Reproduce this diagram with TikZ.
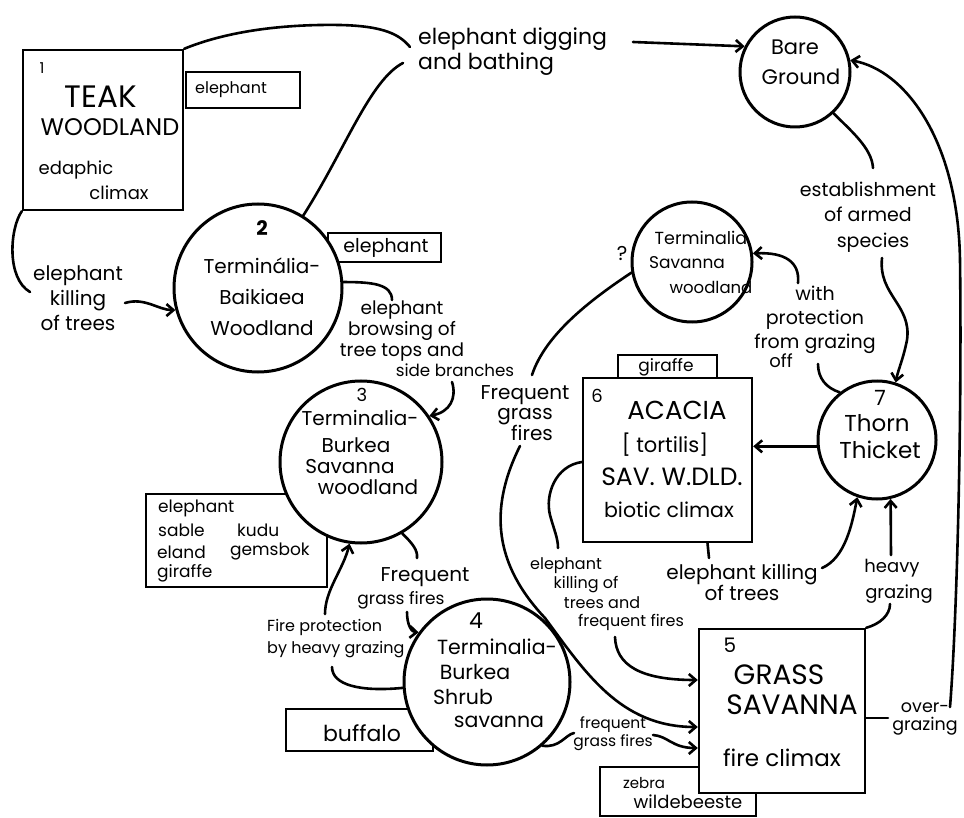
\documentclass[tikz,border=0pt]{standalone}
\usepackage{fontspec}
\setmainfont{Poppins}
\usetikzlibrary{arrows.meta,calc}
\begin{document}
\begin{tikzpicture}[x=1pt,y=-1pt,
  ln/.style={line width=2.6pt,line cap=round},
  arr/.style={ln,-{Straight Barb[length=7pt,width=12pt]}},
  lbox/.style={draw,line width=2pt,inner sep=0pt,fill=white},
  bigbox/.style={draw,line width=2.4pt,inner sep=0pt,fill=white},
  circn/.style={draw,circle,line width=3pt,inner sep=0pt,fill=white},
  tx/.style 2 args={inner sep=0pt,align=center,font=\fontsize{#1}{#2}\selectfont}]
\useasboundingbox (0,0) rectangle (964,818);
\fill[white] (0,0) rectangle (964,818);

% ---------- small label boxes (under the main shapes)
\node[lbox,minimum width=114pt,minimum height=36pt] (le1) at (243,90) {};
\node[lbox,minimum width=113pt,minimum height=29pt] (le2) at (384.5,247.5) {};
\node[lbox,minimum width=181pt,minimum height=93pt] (lan) at (236.5,540.5) {};
\node[lbox,minimum width=147pt,minimum height=42pt] (lbu) at (359.5,730) {};
\node[lbox,minimum width=99pt,minimum height=23pt] (lgi) at (667.5,366.5) {};
\node[lbox,minimum width=156pt,minimum height=49pt] (lze) at (678,791.5) {};

% ---------- main shapes
\node[bigbox,minimum width=160pt,minimum height=160pt] (b1) at (103,130) {};
\node[bigbox,minimum width=169pt,minimum height=164pt] (b6) at (667.5,460) {};
\node[bigbox,minimum width=166pt,minimum height=164pt] (b5) at (782,711) {};
\node[circn,minimum size=168pt] (c2) at (258,288) {};
\node[circn,minimum size=110pt] (bare) at (795,72) {};
\node[circn,minimum size=120pt] (ts) at (692,262) {};
\node[circn,minimum size=162pt] (c3) at (361,462) {};
\node[circn,minimum size=166pt] (c4) at (487,682) {};
\node[circn,minimum size=118pt] (c7) at (877,440) {};

% ---------- texts in shapes
\node[tx={15}{15}] (t1n) at (42,68) {1};
\node[tx={31}{31}] (t1a) at (101,97) {TEAK};
\node[tx={24}{24}] (t1b) at (110,127) {WOODLAND};
\node[tx={18}{18}] (t1c) at (76,170) {edaphic};
\node[tx={18}{18}] (t1d) at (119,193) {climax};
\node[tx={16}{16}] (tle1) at (231,90) {elephant};

\node[tx={20}{20},font=\fontsize{20}{20}\selectfont\bfseries] (t2n) at (262,228) {2};
\node[tx={20}{31}] (t2) at (262,297) {Terminália-\\Baikiaea\\Woodland};
\node[tx={19}{19}] (tle2) at (386,248) {elephant};

\node[tx={21}{30}] (tbare) at (795,62) {Bare\\\hspace*{12pt}Ground};

\node[tx={17.5}{17.5}] (tts1) at (701,238) {Terminalia};
\node[tx={17}{17}] (tts2) at (687,263) {Savanna};
\node[tx={16.5}{16.5}] (tts3) at (711,287) {woodland};

\node[tx={18}{18}] (t3n) at (362,395) {3};
\node[tx={20}{20}] (t3a) at (360,418) {Terminalia-};
\node[tx={20}{20}] (t3b) at (356,445) {Burkea};
\node[tx={20}{20}] (t3c) at (350,467) {Savanna};
\node[tx={20}{20}] (t3d) at (368,487) {woodland};

\node[tx={17}{17},anchor=west] (ta1) at (158,508) {elephant};
\node[tx={17}{17},anchor=west] (ta2) at (158,530) {sable};
\node[tx={17}{17},anchor=west] (ta3) at (237,530) {kudu};
\node[tx={17}{17},anchor=west] (ta4) at (157,552) {eland};
\node[tx={17}{17},anchor=west] (ta5) at (230,552) {gemsbok};
\node[tx={17}{17},anchor=west] (ta6) at (157,573) {giraffe};

\node[tx={22}{22}] (t4n) at (476,621) {4};
\node[tx={20.5}{20.5}] (t4a) at (497,647) {Terminalia-};
\node[tx={20.5}{20.5}] (t4b) at (475,672) {Burkea};
\node[tx={20.5}{20.5}] (t4c) at (463,697) {Shrub};
\node[tx={20.5}{20.5}] (t4d) at (499,722) {savanna};
\node[tx={22}{22}] (tbu) at (362,733) {buffalo};

\node[tx={18}{18}] (t6n) at (597,396) {6};
\node[tx={26}{26}] (t6a) at (677,410) {ACACIA};
\node[tx={21}{21}] (t6b) at (665,445) {[ tortilis]};
\node[tx={25}{25}] (t6c) at (672,477) {SAV. W.DLD.};
\node[tx={20.5}{20.5}] (t6d) at (669,510) {biotic climax};
\node[tx={17}{17}] (tgi) at (666,367) {giraffe};

\node[tx={21}{21}] (t7n) at (880,398) {7};
\node[tx={23}{27}] (t7) at (877,437) {Thorn\\\hspace*{6pt}Thicket};

\node[tx={20}{20}] (t5n) at (730,645) {5};
\node[tx={28}{28}] (t5a) at (779,675) {GRASS};
\node[tx={28}{28}] (t5b) at (792,705) {SAVANNA};
\node[tx={23}{23}] (t5c) at (782,758) {fire climax};
\node[tx={15}{15}] (tze1) at (644,783) {zebra};
\node[tx={18}{18}] (tze2) at (688,802) {wildebeeste};

% ---------- connector labels
\node[tx={22}{25},align=left,anchor=west] (ldig) at (418,52) {elephant digging\\and bathing};
\node[tx={20}{25}] (lek) at (78,298) {elephant\\killing\\of trees};
\node[tx={18.5}{21}] (lbrA) at (402,331) {elephant\\browsing of\\tree tops and};
\node[tx={16.7}{16.7}] (lbrB) at (455,370) {side branches};
\node[tx={19}{25.5}] (lest) at (868,217) {establishment\\of armed\\\hspace*{10pt}species};
\node[tx={19}{24}] (lwith) at (815,320) {with\\protection\\from grazing};
\node[tx={18}{18}] (loff) at (781,361) {off};
\node[tx={20}{20}] (lq) at (622,254) {?};
\node[tx={20}{20}] (lffm) at (525,413) {Frequent\\grass\\\hspace*{14pt}fires};
\node[tx={20}{20}] (lfg1) at (425,577) {Frequent};
\node[tx={17}{17}] (lfg2) at (401,600) {grass fires};
\node[tx={16}{22},align=left,anchor=west] (lfp) at (267,639) {Fire protection\\by heavy grazing};
\node[tx={16}{16}] (lek1) at (566,566) {elephant};
\node[tx={16}{16}] (lek2) at (586,585) {killing of};
\node[tx={16}{16}] (lek3) at (602,603) {trees and};
\node[tx={16}{16}] (lek4) at (631,622) {frequent fires};
\node[tx={20}{21}] (lek67) at (742,582) {elephant killing\\of trees};
\node[tx={18}{26}] (lhg) at (892,581) {heavy\\\hspace*{14pt}grazing};
\node[tx={17.5}{18}] (log) at (925,719) {over-\\grazing};
\node[tx={15.5}{18}] (lfq) at (613,734) {frequent\\grass fires};

% ---------- free ends of connectors
\coordinate (dg1) at (410,47);
\coordinate (dg2) at (403,63);
\coordinate (dg3) at (633,42);
\coordinate (ek1) at (30,292);
\coordinate (ek2) at (125,303);
\coordinate (br1) at (392,300);
\coordinate (br2) at (452,382);
\coordinate (es1) at (873,168);
\coordinate (es2) at (882,258);
\coordinate (of1) at (818,364);
\coordinate (wi1) at (798,283);
\coordinate (ff1) at (532,375);
\coordinate (ff2) at (520,446);
\coordinate (ek3) at (558,548);
\coordinate (ek4) at (615,637);
\coordinate (ek5) at (709,558);
\coordinate (ek6) at (822,568);
\coordinate (hg1) at (890,604);
\coordinate (hg2) at (891,555);
\coordinate (og1) at (888,718);
\coordinate (og2) at (950,707);
\coordinate (fp1) at (325,614);
\coordinate (fp2) at (332,667);
\coordinate (fg1) at (417,558);
\coordinate (fg2) at (407,612);
\coordinate (fq1) at (574,733);
\coordinate (fq2) at (653,735);

% ---------- connectors
\draw[ln] (b1.north east) .. controls (225,32) and (280,24) .. (340,25) .. controls (385,26) and (400,35) .. (dg1);
\draw[ln] (c2.58) .. controls (345,150) and (370,80) .. (dg2);
\draw[arr] (dg3) -- (bare.153);
\draw[ln] (b1.south west) .. controls (10,228) and (6,278) .. (ek1);
\draw[arr] (ek2) .. controls (145,297) and (158,310) .. (c2.195);
\draw[ln] (c2.4) .. controls (372,282) and (392,284) .. (br1);
\draw[arr] (br2) .. controls (457,398) and (450,412) .. (c3.34);
\draw[ln] (bare.-47) .. controls (850,130) and (872,148) .. (es1);
\draw[arr] (es2) .. controls (878,295) and (912,305) .. (907,340) .. controls (903,360) and (898,370) .. (c7.72);
\draw[ln] (c7.128) .. controls (826,388) and (818,378) .. (of1);
\draw[arr] (wi1) .. controls (800,262) and (785,252) .. (ts.8);
\draw[arr] (c7.186) -- (c7.186 -| b6.east);
\draw[ln] (ts.190) .. controls (590,300) and (545,335) .. (ff1);
\draw[arr] (ff2) .. controls (488,510) and (495,565) .. (545,618) .. controls (585,672) and (620,727) .. ([yshift=-16pt]b5.west);
\draw[ln] ([yshift=-2pt]b6.west) .. controls (555,466) and (545,495) .. (550,515) .. controls (554,530) and (558,538) .. (ek3);
\draw[arr] (ek4) .. controls (616,665) and (640,680) .. ([yshift=31pt]b5.west);
\draw[ln] ([xshift=40pt]b6.south) -- (ek5);
\draw[arr] (ek6) .. controls (845,558) and (852,525) .. (c7.251);
\draw[ln] (b5.north east) .. controls (880,624) and (890,615) .. (hg1);
\draw[arr] (hg2) -- (c7.283);
\draw[ln] ([yshift=-7pt]b5.east) -- (og1);
\draw[arr] (og2) .. controls (957,620) and (962,420) .. (960,260) .. controls (958,140) and (905,70) .. (bare.12);
\draw[arr] (fp1) .. controls (325,590) and (343,570) .. (c3.262);
\draw[ln] (c4.184) .. controls (360,692) and (332,685) .. (fp2);
\draw[ln] (c3.300) .. controls (412,543) and (418,550) .. (fg1);
\draw[arr] (fg2) .. controls (407,626) and (412,632) .. (c4.144);
\draw[ln] (c4.311) .. controls (560,748) and (565,735) .. (fq1);
\draw[arr] (fq2) .. controls (668,736) and (672,748) .. ([yshift=-37pt]b5.west);
\end{tikzpicture}
\end{document}
